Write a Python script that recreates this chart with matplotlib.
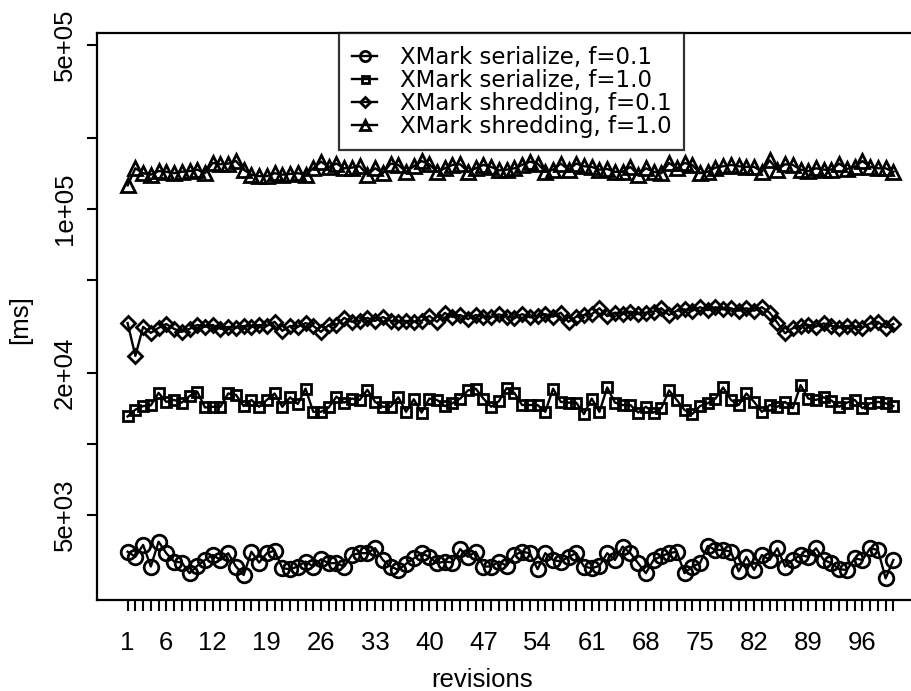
import numpy as np
import matplotlib.pyplot as plt

plt.rcParams['font.family'] = ['Liberation Sans', 'DejaVu Sans']

# revisions 1..100
revisions = np.arange(1, 101)

# XMark serialize, f=0.1 (ms)
ser_01 = np.array([
    3.48, 3.31, 3.72, 3.01, 3.84, 3.43, 3.16, 3.13, 2.82, 3.03,
    3.21, 3.37, 3.21, 3.43, 3.01, 2.77, 3.48, 3.13, 3.43, 3.52,
    2.96, 2.93, 3.01, 3.16, 3.01, 3.23, 3.11, 3.11, 3.01, 3.37,
    3.43, 3.43, 3.60, 3.21, 3.01, 2.91, 3.09, 3.26, 3.43, 3.31,
    3.11, 3.16, 3.13, 3.57, 3.31, 3.48, 3.01, 3.01, 3.16, 3.03,
    3.37, 3.48, 3.43, 2.93, 3.43, 3.21, 3.16, 3.31, 3.43, 3.01,
    2.96, 3.03, 3.43, 3.21, 3.66, 3.43, 3.11, 2.82, 3.21, 3.33,
    3.43, 3.48, 2.82, 3.01, 3.11, 3.68, 3.54, 3.54, 3.48, 2.87,
    3.31, 2.91, 3.37, 3.21, 3.60, 3.01, 3.21, 3.37, 3.31, 3.60,
    3.21, 3.11, 2.93, 2.91, 3.26, 3.21, 3.60, 3.54, 2.68, 3.21]) * 1e3

# XMark serialize, f=1.0 (ms)
ser_10 = np.array([
    1.31, 1.40, 1.45, 1.46, 1.65, 1.51, 1.54, 1.50, 1.60, 1.67,
    1.43, 1.44, 1.44, 1.64, 1.62, 1.45, 1.54, 1.44, 1.54, 1.64,
    1.44, 1.58, 1.48, 1.72, 1.37, 1.37, 1.43, 1.59, 1.50, 1.56,
    1.54, 1.70, 1.51, 1.44, 1.44, 1.58, 1.37, 1.55, 1.36, 1.56,
    1.54, 1.45, 1.49, 1.56, 1.69, 1.72, 1.56, 1.44, 1.52, 1.73,
    1.65, 1.465, 1.465, 1.465, 1.37, 1.72, 1.51, 1.50, 1.50, 1.34,
    1.56, 1.37, 1.74, 1.50, 1.465, 1.465, 1.36, 1.44, 1.36, 1.42,
    1.69, 1.54, 1.395, 1.34, 1.45, 1.49, 1.56, 1.74, 1.54, 1.465,
    1.64, 1.51, 1.37, 1.465, 1.44, 1.51, 1.42, 1.78, 1.56, 1.54,
    1.58, 1.53, 1.44, 1.50, 1.54, 1.42, 1.49, 1.51, 1.49, 1.45]) * 1e4

# XMark shredding, f=0.1 (ms)
shr_01 = np.array([
    3.27, 2.37, 3.15, 2.97, 3.12, 3.24, 3.09, 3.00, 3.09, 3.21,
    3.15, 3.21, 3.09, 3.15, 3.12, 3.18, 3.15, 3.21, 3.18, 3.31,
    3.03, 3.18, 3.15, 3.27, 3.18, 3.00, 3.21, 3.21, 3.44, 3.31,
    3.34, 3.44, 3.34, 3.47, 3.34, 3.31, 3.34, 3.31, 3.34, 3.51,
    3.31, 3.61, 3.47, 3.54, 3.40, 3.54, 3.47, 3.47, 3.56, 3.48,
    3.43, 3.57, 3.46, 3.50, 3.57, 3.48, 3.62, 3.31, 3.48, 3.54,
    3.57, 3.78, 3.50, 3.62, 3.57, 3.66, 3.57, 3.62, 3.66, 3.78,
    3.54, 3.69, 3.74, 3.69, 3.82, 3.71, 3.82, 3.74, 3.78, 3.69,
    3.78, 3.69, 3.82, 3.62, 3.28, 2.96, 3.11, 3.18, 3.21, 3.16,
    3.26, 3.18, 3.13, 3.18, 3.16, 3.13, 3.26, 3.31, 3.13, 3.24]) * 1e4

# XMark shredding, f=1.0 (ms)
shr_10 = np.array([
    1.26, 1.49, 1.42, 1.40, 1.45, 1.44, 1.42, 1.44, 1.45, 1.47,
    1.42, 1.57, 1.55, 1.56, 1.60, 1.47, 1.40, 1.38, 1.38, 1.42,
    1.40, 1.41, 1.42, 1.40, 1.49, 1.59, 1.51, 1.56, 1.49, 1.50,
    1.52, 1.40, 1.49, 1.42, 1.56, 1.54, 1.44, 1.52, 1.60, 1.55,
    1.44, 1.49, 1.54, 1.55, 1.44, 1.49, 1.54, 1.51, 1.46, 1.47,
    1.49, 1.54, 1.59, 1.56, 1.44, 1.47, 1.56, 1.47, 1.56, 1.52,
    1.51, 1.47, 1.48, 1.44, 1.44, 1.51, 1.40, 1.49, 1.44, 1.42,
    1.57, 1.49, 1.57, 1.54, 1.42, 1.44, 1.50, 1.52, 1.54, 1.52,
    1.51, 1.51, 1.44, 1.61, 1.47, 1.55, 1.54, 1.47, 1.45, 1.49,
    1.47, 1.47, 1.56, 1.48, 1.51, 1.60, 1.51, 1.49, 1.49, 1.44]) * 1e5

series_labels = ['XMark serialize, f=0.1', 'XMark serialize, f=1.0',
                 'XMark shredding, f=0.1', 'XMark shredding, f=1.0']
x_label_ticks = [1, 6, 12, 19, 26, 33, 40, 47, 54, 61, 68, 75, 82, 89, 96]
y_ticks = [5e3, 1e4, 2e4, 5e4, 1e5, 2e5, 5e5]
y_tick_labels = ['5e+03', '', '2e+04', '', '1e+05', '', '5e+05']

fig = plt.figure(figsize=(9.12, 6.91), dpi=100)
ax = fig.add_axes([97/912, 91/691, 827/912, 567/691])

styles = [('o', 10.5), ('s', 7.2), ('D', 6.8), ('^', 10.0)]
for y, lab, (m, ms) in zip([ser_01, ser_10, shr_01, shr_10], series_labels, styles):
    ax.plot(revisions, y, color='black', lw=1.7, marker=m, ms=ms,
            mfc='none', mec='black', mew=2.0, label=lab)

ax.set_yscale('log')
ax.set_xlim(-2.96, 103.96)
ax.set_ylim(2168, 5.61e5)

ax.set_xticks(revisions)
ax.set_xticklabels([str(r) if r in x_label_ticks else '' for r in revisions])
ax.set_yticks(y_ticks)
ax.set_yticklabels(y_tick_labels, rotation=90, va='center')
ax.yaxis.set_minor_locator(plt.NullLocator())
ax.tick_params(axis='x', length=8, width=1.5, pad=14, labelsize=18.5)
ax.tick_params(axis='y', length=7.5, width=1.5, pad=7, labelsize=18.5)

for side in ['left', 'top', 'bottom', 'right']:
    ax.spines[side].set_linewidth(1.6)

ax.set_xlabel('revisions', fontsize=18.5, va='center')
ax.xaxis.set_label_coords(0.4655, -0.141)
ax.set_ylabel('[ms]', fontsize=18.5, va='center', ha='center')
ax.yaxis.set_label_coords(-0.093, 0.494)

leg = ax.legend(loc='upper left', bbox_to_anchor=(0.293, 1.0), fontsize=16.5,
                frameon=True, fancybox=False, edgecolor='black',
                borderaxespad=0, borderpad=0.55, labelspacing=0.0,
                handlelength=1.1, handletextpad=1.0, markerscale=0.7)
leg.get_frame().set_linewidth(1.6)
for t in leg.get_texts():
    t.set_family('DejaVu Sans')

fig.savefig('out.png', dpi=100)
